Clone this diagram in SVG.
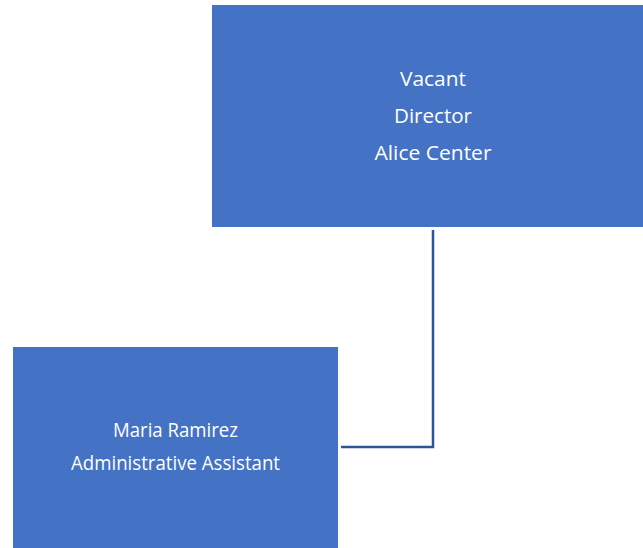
<svg xmlns="http://www.w3.org/2000/svg" width="643" height="548" viewBox="0 0 643 548">
<style>
.box{fill:#4472C4;}
.lbl{fill:#FFFFFF;font-family:"Open Sans","Noto Sans","Liberation Sans",sans-serif;font-size:19.5px;text-anchor:middle;}
.conn{fill:none;stroke:#2F5597;stroke-width:2.5;}
</style>
<rect width="643" height="548" fill="#FFFFFF"/>
<g id="connectors">
<path class="conn" d="M433,230 V447 H341"/>
</g>
<g id="node-director">
<rect class="box" x="212" y="5" width="431" height="222"/>
<text class="lbl" x="433" y="86" textLength="66" lengthAdjust="spacingAndGlyphs">Vacant</text>
<text class="lbl" x="433" y="123" textLength="78" lengthAdjust="spacingAndGlyphs">Director</text>
<text class="lbl" x="433" y="160" textLength="117" lengthAdjust="spacingAndGlyphs">Alice Center</text>
</g>
<g id="node-assistant">
<rect class="box" x="13" y="347" width="325" height="201"/>
<text class="lbl" x="175.5" y="437" textLength="125" lengthAdjust="spacingAndGlyphs">Maria Ramirez</text>
<text class="lbl" x="175.5" y="470" textLength="209" lengthAdjust="spacingAndGlyphs">Administrative Assistant</text>
</g>
</svg>
